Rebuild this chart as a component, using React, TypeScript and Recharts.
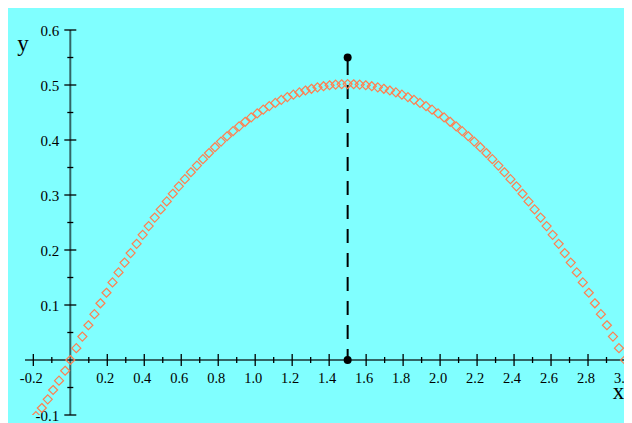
import React from 'react';
import { ScatterChart, Scatter, XAxis, YAxis, ReferenceLine, ReferenceDot } from 'recharts';

const curveX = [
  -0.186, -0.154, -0.122, -0.093, -0.061, -0.028,
  0, 0.0326, 0.0652, 0.0978, 0.1304, 0.163, 0.1957, 0.2283, 0.2609, 0.2935, 0.3261,
  0.3587, 0.3913, 0.4239, 0.4565, 0.4891, 0.5217, 0.5543, 0.587, 0.6196, 0.6522,
  0.6848, 0.7174, 0.75, 0.7826, 0.8152, 0.8478, 0.8804, 0.913, 0.9457, 0.9783,
  1.0109, 1.0435, 1.0761, 1.1087, 1.1413, 1.1739, 1.2065, 1.2391, 1.2717, 1.3043,
  1.337, 1.3696, 1.4022, 1.4348, 1.4674, 1.5, 1.5326, 1.5652, 1.5978, 1.6304,
  1.663, 1.6957, 1.7283, 1.7609, 1.7935, 1.8261, 1.8587, 1.8913, 1.9239, 1.9565,
  1.9891, 2.0217, 2.0543, 2.087, 2.1196, 2.1522, 2.1848, 2.2174, 2.25, 2.2826,
  2.3152, 2.3478, 2.3804, 2.413, 2.4457, 2.4783, 2.5109, 2.5435, 2.5761, 2.6087,
  2.6413, 2.6739, 2.7065, 2.7391, 2.7717, 2.8043, 2.837, 2.8696, 2.9022, 2.9348,
  2.9674, 3.0,
];
const curveY = [
  -0.102, -0.0873, -0.0715, -0.0545, -0.0376, -0.0195,
  0, 0.0215, 0.0426, 0.0632, 0.0834, 0.1031, 0.1223, 0.141, 0.1593, 0.1771, 0.1944,
  0.2112, 0.2276, 0.2435, 0.2589, 0.2738, 0.2883, 0.3023, 0.3158, 0.3288, 0.3414,
  0.3535, 0.3651, 0.3763, 0.3869, 0.3971, 0.4068, 0.4161, 0.4248, 0.4331, 0.441,
  0.4483, 0.4552, 0.4616, 0.4675, 0.473, 0.478, 0.4825, 0.4865, 0.49, 0.4931,
  0.4957, 0.4978, 0.4995, 0.5007, 0.5014, 0.5017, 0.5014, 0.5007, 0.4995, 0.4978,
  0.4957, 0.4931, 0.49, 0.4865, 0.4825, 0.478, 0.473, 0.4675, 0.4616, 0.4552,
  0.4483, 0.441, 0.4331, 0.4248, 0.4161, 0.4068, 0.3971, 0.3869, 0.3763, 0.3651,
  0.3535, 0.3414, 0.3288, 0.3158, 0.3023, 0.2883, 0.2738, 0.2589, 0.2435, 0.2276,
  0.2112, 0.1944, 0.1771, 0.1593, 0.141, 0.1223, 0.1031, 0.0834, 0.0632, 0.0426,
  0.0215, 0,
];

const xMajorTicks = [-0.2, 0.2, 0.4, 0.6, 0.8, 1.0, 1.2, 1.4, 1.6, 1.8, 2.0, 2.2, 2.4, 2.6, 2.8, 3.0];
const xTickLabels = ['-0.2', '0.2', '0.4', '0.6', '0.8', '1.0', '1.2', '1.4', '1.6', '1.8', '2.0', '2.2', '2.4', '2.6', '2.8', '3.0'];
const xMinorTicks = [-0.1, 0.1, 0.3, 0.5, 0.7, 0.9, 1.1, 1.3, 1.5, 1.7, 1.9, 2.1, 2.3, 2.5, 2.7, 2.9];
const yMajorTicks = [-0.1, 0.1, 0.2, 0.3, 0.4, 0.5, 0.6];
const yTickLabels = ['-0.1', '0.1', '0.2', '0.3', '0.4', '0.5', '0.6'];
const yMinorTicks = [-0.05, 0.05, 0.15, 0.25, 0.35, 0.45, 0.55];

const markerX = 1.5;
const markerTop = 0.55;

const curve = curveX.map((x, i) => ({ x, y: curveY[i] }));

const FONT = '"Liberation Serif", "Times New Roman", serif';
const BG = '#80ffff';
const ORANGE = '#ff7f50';

const Diamond = (p: any) => {
  const { cx, cy } = p;
  const s = 4.5;
  return (
    <path
      d={`M${cx},${cy - s}L${cx + s},${cy}L${cx},${cy + s}L${cx - s},${cy}Z`}
      fill="none"
      stroke={ORANGE}
      strokeWidth={1.2}
    />
  );
};

const xTick = (label: string | null, len: number) => (p: any) => (
  <g>
    <line x1={p.cx} x2={p.cx} y1={p.cy - len} y2={p.cy + len} stroke="#000" strokeWidth={1.3} />
    {label && (
      <text x={p.cx - 2} y={p.cy + 22.5} textAnchor="middle" fontSize={14.5} fontFamily={FONT} fill="#000">
        {label}
      </text>
    )}
  </g>
);

const yTick = (label: string | null, len: number) => (p: any) => (
  <g>
    <line x1={p.cx - len} x2={p.cx + len} y1={p.cy} y2={p.cy} stroke="#000" strokeWidth={1.3} />
    {label && (
      <text x={p.cx - 11} y={p.cy + 5.5} textAnchor="end" fontSize={15} fontFamily={FONT} fill="#000">
        {label}
      </text>
    )}
  </g>
);

const dot = (p: any) => <circle cx={p.cx} cy={p.cy} r={4} fill="#000" />;

export default function App() {
  return (
    <div style={{ position: 'relative', width: 624, height: 415, background: BG }}>
      <style>{'.recharts-wrapper, .recharts-surface { overflow: visible !important; }'}</style>
      <ScatterChart width={624} height={415} margin={{ top: 22, right: 7, bottom: 8, left: 17 }}>
        <XAxis type="number" dataKey="x" domain={[-0.245, 3.0]} allowDataOverflow hide />
        <YAxis type="number" dataKey="y" domain={[-0.1, 0.6]} allowDataOverflow hide />

        <ReferenceLine y={0} stroke="#000" strokeOpacity={0.6} strokeWidth={2} />
        <ReferenceLine x={0} stroke="#000" strokeOpacity={0.6} strokeWidth={2} />

        {xMinorTicks.map((t) => (
          <ReferenceDot key={'xm' + t} x={t} y={0} ifOverflow="visible" shape={xTick(null, 3)} />
        ))}
        {xMajorTicks.map((t, i) => (
          <ReferenceDot key={'xM' + t} x={t} y={0} ifOverflow="visible" shape={xTick(xTickLabels[i], 6)} />
        ))}
        {yMinorTicks.map((t) => (
          <ReferenceDot key={'ym' + t} x={0} y={t} ifOverflow="visible" shape={yTick(null, 3)} />
        ))}
        {yMajorTicks.map((t, i) => (
          <ReferenceDot key={'yM' + t} x={0} y={t} ifOverflow="visible" shape={yTick(yTickLabels[i], 6)} />
        ))}

        <Scatter data={curve} shape={Diamond} isAnimationActive={false} />

        <ReferenceLine
          segment={[{ x: markerX, y: markerTop }, { x: markerX, y: 0 }]}
          stroke="#000"
          strokeWidth={2}
          strokeDasharray="14 10"
          strokeDashoffset={-3.5}
        />
        <ReferenceDot x={markerX} y={markerTop} ifOverflow="visible" shape={dot} />
        <ReferenceDot x={markerX} y={0} ifOverflow="visible" shape={dot} />
      </ScatterChart>
      <svg width={624} height={415} style={{ position: 'absolute', left: 0, top: 0, pointerEvents: 'none', overflow: 'visible' }}>
        <text x={15} y={42.5} textAnchor="middle" fontSize={23} fontFamily={FONT} fill="#000">y</text>
        <text x={610.5} y={391} textAnchor="middle" fontSize={23} fontFamily={FONT} fill="#000">x</text>
      </svg>
    </div>
  );
}
